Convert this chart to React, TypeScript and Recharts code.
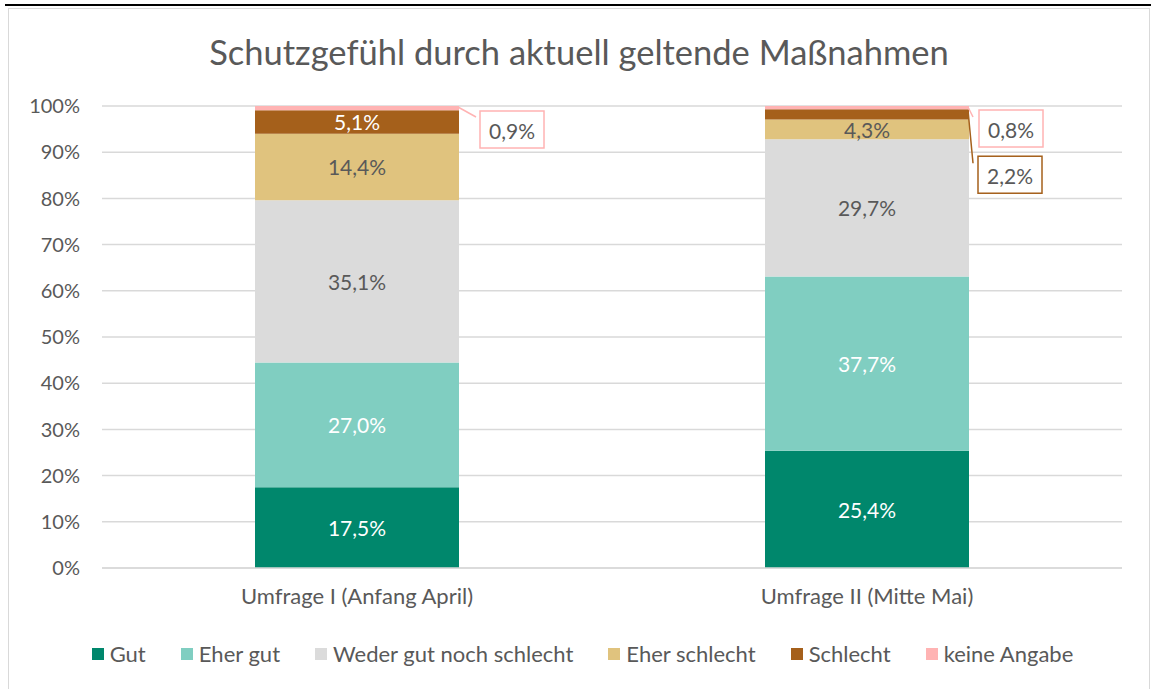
import React from "react";
import { BarChart, Bar, XAxis, YAxis, CartesianGrid, Legend, LabelList } from "recharts";

const surveys = ["Umfrage I (Anfang April)", "Umfrage II (Mitte Mai)"];
const gut = [17.5, 25.4];
const eherGut = [27.0, 37.7];
const weder = [35.1, 29.7];
const eherSchlecht = [14.4, 4.3];
const schlecht = [5.1, 2.2];
const keineAngabe = [0.9, 0.8];
const yTicks = [0, 10, 20, 30, 40, 50, 60, 70, 80, 90, 100];

const FONT = "Lato, 'Noto Sans', sans-serif";
const GRAY = "#595959";

const series = [
  { key: "gut", name: "Gut", color: "#00876C", text: "#FFFFFF" },
  { key: "eherGut", name: "Eher gut", color: "#80CEC1", text: "#FFFFFF" },
  { key: "weder", name: "Weder gut noch schlecht", color: "#DBDBDB", text: GRAY },
  { key: "eherSchlecht", name: "Eher schlecht", color: "#E0C37E", text: GRAY },
  { key: "schlecht", name: "Schlecht", color: "#A5601B", text: "#FFFFFF" },
  { key: "keineAngabe", name: "keine Angabe", color: "#FFB3B3", text: GRAY },
];

const data = surveys.map((survey, i) => ({
  survey,
  gut: gut[i],
  eherGut: eherGut[i],
  weder: weder[i],
  eherSchlecht: eherSchlecht[i],
  schlecht: schlecht[i],
  keineAngabe: keineAngabe[i],
}));

const fmt = (v: any) => {
  const n = Array.isArray(v) ? v[1] - v[0] : Number(v);
  return n.toFixed(1).replace(".", ",") + "%";
};

// callout boxes for the thin segments: offsets from the segment's top-right corner
const callouts: Record<string, Record<number, { dx: number; dy: number; lx: number; ly: number }>> = {
  keineAngabe: {
    0: { dx: 21, dy: 5, lx: 17, ly: 11 },
    1: { dx: 10, dy: 4, lx: 4, ly: 11 },
  },
  schlecht: {
    1: { dx: 9, dy: 47, lx: 4, ly: 54 },
  },
};

const makeLabel = (key: string, fill: string, text: string) => (props: any) => {
  const { x, y, width, height, value, index } = props;
  const c = callouts[key] && callouts[key][index];
  if (c) {
    const right = Number(x) + Number(width);
    const top = Number(y);
    return (
      <g>
        <line x1={right - 1} y1={top + 1} x2={right + c.lx} y2={top + c.ly} stroke={fill} strokeWidth={1.5} />
        <rect x={right + c.dx} y={top + c.dy} width={64} height={37} fill="#FFFFFF" stroke={fill} strokeWidth={1.5} />
        <text
          x={right + c.dx + 32}
          y={top + c.dy + 19}
          textAnchor="middle"
          dominantBaseline="central"
          fill={GRAY}
          fontSize={21}
          fontFamily={FONT}
        >
          {fmt(value)}
        </text>
      </g>
    );
  }
  if (key === "keineAngabe") return null;
  return (
    <text
      x={Number(x) + Number(width) / 2}
      y={Number(y) + Number(height) / 2}
      textAnchor="middle"
      dominantBaseline="central"
      fill={text}
      fontSize={21}
      fontFamily={FONT}
    >
      {fmt(value)}
    </text>
  );
};

const renderLegend = (props: any) => {
  const order = series.map((s) => s.name);
  const payload = [...(props.payload || [])].sort((a: any, b: any) => order.indexOf(a.value) - order.indexOf(b.value));
  return (
    <div
      style={{
        height: 71,
        display: "flex",
        justifyContent: "center",
        alignItems: "center",
        gap: 35,
        paddingLeft: 34,
        boxSizing: "border-box",
        fontFamily: FONT,
        fontSize: 22,
        color: GRAY,
      }}
    >
      {payload.map((p: any) => (
        <div key={p.value} style={{ display: "flex", alignItems: "center" }}>
          <span style={{ width: 12, height: 12, background: p.color, marginRight: 6, display: "inline-block" }} />
          <span>{p.value}</span>
        </div>
      ))}
    </div>
  );
};

export default function App() {
  return (
    <div style={{ position: "absolute", left: 0, top: 0, width: 1151, height: 689, overflow: "hidden", background: "#FFFFFF" }}>
      <div style={{ position: "absolute", left: 5, top: 4, width: 1146, height: 2, background: "#000000" }} />
      <div
        style={{
          position: "absolute",
          left: 8,
          top: 8,
          width: 1142,
          height: 700,
          border: "1px solid #D9D9D9",
          boxSizing: "border-box",
        }}
      >
        <div
          style={{
            position: "absolute",
            top: 25,
            left: 0,
            width: 1140,
            textAlign: "center",
            fontFamily: FONT,
            fontSize: 34.5,
            lineHeight: "36px",
            color: GRAY,
          }}
        >
          Schutzgefühl durch aktuell geltende Maßnahmen
        </div>
        <BarChart
          width={1140}
          height={680}
          data={data}
          margin={{ top: 97, right: 27, bottom: 0, left: 0 }}
          barCategoryGap="30%"
        >
          <CartesianGrid vertical={false} stroke="#D9D9D9" strokeWidth={1.5} />
          <XAxis
            dataKey="survey"
            height={50}
            axisLine={{ stroke: "#D9D9D9", strokeWidth: 1.5 }}
            tickLine={false}
            tickMargin={14}
            tick={{ fill: GRAY, fontSize: 22, fontFamily: FONT }}
          />
          <YAxis
            width={93}
            domain={[0, 100]}
            ticks={yTicks}
            allowDataOverflow
            axisLine={false}
            tickLine={false}
            tickMargin={16}
            tickFormatter={(v: number) => `${v}%`}
            tick={{ fill: GRAY, fontSize: 20, fontFamily: FONT }}
          />
          <Legend verticalAlign="bottom" content={renderLegend} />
          {series.map((s) => (
            <Bar key={s.key} dataKey={s.key} name={s.name} stackId="a" fill={s.color} isAnimationActive={false}>
              <LabelList dataKey={s.key} content={makeLabel(s.key, s.color, s.text)} />
            </Bar>
          ))}
        </BarChart>
      </div>
    </div>
  );
}
